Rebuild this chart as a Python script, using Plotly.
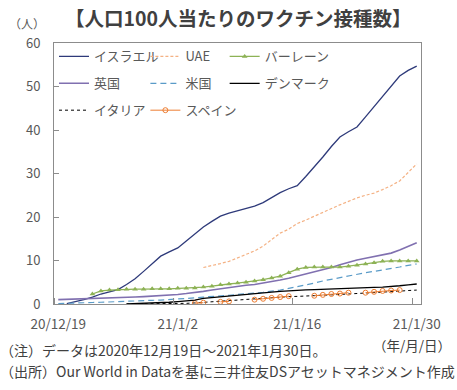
import plotly.graph_objects as go
import pandas as pd

dates = pd.date_range("2020-12-19", "2021-01-30", freq="D")
N = None

israel = [N, 0.1, 0.5, 1.0, 1.6, 2.3, 2.8, 3.3, 4.5, 5.8, 7.5, 9.3, 11.0, 12.0, 12.9, 14.5,
          16.2, 17.7, 19.0, 20.2, 20.9, 21.4, 21.9, 22.5, 23.3, 24.5, 25.6, 26.5, 27.2, 29.3,
          31.5, 33.8, 36.2, 38.4, 39.6, 40.7, 43.0, 45.3, 47.6, 50.0, 52.4, 53.7, 54.7]
uae = [N] * 17 + [8.4, 8.8, 9.3, 9.8, 10.6, 11.5, 12.2, 13.3, 14.8, 16.3, 17.2, 18.5, 19.3,
                  20.2, 21.1, 22.0, 22.8, 23.6, 24.4, 25.0, 25.5, 26.3, 27.2, 28.3, 30.2, 32.2]
bahrain = [N] * 4 + [2.3, 3.0, 3.2, 3.3, 3.4, 3.4, 3.4, 3.5, 3.5, 3.5, 3.6, 3.6, 3.7, 3.9,
                     4.1, 4.4, 4.6, 4.8, 5.0, 5.3, 5.6, 6.0, 6.4, 7.2, 8.0, 8.4, 8.5, 8.5,
                     8.5, 8.5, 8.7, 8.9, 9.2, 9.5, 9.8, 9.9, 9.9, 9.9, 9.9]
uk = [1.0, 1.05, 1.1, 1.2, 1.25, 1.3, 1.35, 1.4, 1.5, 1.6, 1.7, 1.8, 1.9, 2.0, 2.2, 2.4,
      2.6, 2.9, 3.2, 3.5, 3.8, 4.0, 4.3, 4.5, 4.8, 5.1, 5.5, 5.9, 6.4, 6.8, 7.3, 7.8, 8.4,
      9.0, 9.6, 10.1, 10.5, 10.9, 11.3, 11.7, 12.4, 13.2, 14.1]
us = [0.1, 0.2, 0.25, 0.3, 0.35, 0.4, 0.5, 0.55, 0.6, 0.65, 0.75, 0.85, 0.9, 1.0, 1.1, 1.25,
      1.4, 1.6, 1.7, 1.9, 2.0, 2.2, 2.3, 2.5, 2.7, 2.9, 3.2, 3.6, 4.0, 4.3, 4.8, 5.3, 5.7,
      6.1, 6.5, 6.9, 7.2, 7.5, 7.8, 8.1, 8.5, 8.9, 9.2]
denmark = [N] * 8 + [0.0, 0.05, 0.1, 0.2, 0.3, 0.4, 0.55, 0.7, 0.9, 1.3, 1.5, 1.7, 1.9, 2.1,
                     2.3, 2.45, 2.6, 2.75, 2.9, 3.05, 3.15, 3.25, 3.3, 3.35, 3.4, 3.5, 3.55,
                     3.6, 3.7, 3.8, 3.9, 4.0, 4.2, 4.4, 4.6]
italy = [N] * 8 + [0.0, 0.0, 0.0, 0.01, 0.02, 0.05, 0.1, 0.15, 0.25, 0.35, 0.45, 0.6, 0.75,
                   0.9, 1.05, 1.2, 1.35, 1.5, 1.6, 1.7, 1.75, 1.8, 1.9, 2.0, 2.1, 2.2, 2.3,
                   2.35, 2.4, 2.55, 2.7, 2.8, 2.95, 3.1, 3.2]
spain = [N] * 16 + [0.2, 0.3, N, 0.5, 0.6, N, N, 1.0, 1.2, 1.4, 1.6, 1.8, N, N, 1.9, 2.1,
                    2.3, 2.4, 2.6, N, 2.6, 2.8, 3.0, 3.1, 3.2, N, N]

x_ticks = ["2020-12-19", "2021-01-02", "2021-01-16", "2021-01-30"]
x_ticktext = ["20/12/19", "21/1/2", "21/1/16", "21/1/30"]
x_minor = ["2020-12-18 12:00", "2021-01-01 12:00", "2021-01-15 12:00", "2021-01-29 12:00"]

JP = "Noto Sans CJK JP"
GRAY = "#595959"

series = [
    ("イスラエル", israel, dict(color="#2E3A7A", width=1.3), None, "legend"),
    ("英国", uk, dict(color="#8070B0", width=1.6), None, "legend"),
    ("イタリア", italy, dict(color="#000000", width=1, dash="dot"), None, "legend"),
    ("UAE", uae, dict(color="#F4B183", width=1.2, dash="3px,2px"), None, "legend2"),
    ("米国", us, dict(color="#5A9BC8", width=1.2, dash="6px,4px"), None, "legend2"),
    ("スペイン", spain, dict(color="#ED7D31", width=1),
     dict(symbol="circle-open", size=5, color="#ED7D31", line=dict(width=1)), "legend2"),
    ("バーレーン", bahrain, dict(color="#8DB255", width=1.3),
     dict(symbol="triangle-up", size=5, color="#8DB255"), "legend3"),
    ("デンマーク", denmark, dict(color="#000000", width=1.3), None, "legend3"),
]

fig = go.Figure()
for i, (name, vals, line, marker, lg) in enumerate(series):
    fig.add_trace(go.Scatter(
        x=dates, y=vals, name=name, mode="lines+markers" if marker else "lines",
        line=line, marker=marker, legend=lg, legendgroup=f"g{i}",
        connectgaps=False,
    ))

leg_common = dict(font=dict(family=JP, size=13, color=GRAY), bgcolor="rgba(0,0,0,0)",
                  yanchor="top", y=1.006, xanchor="left", tracegroupgap=7,
                  itemwidth=30)
fig.update_layout(
    width=457, height=390,
    margin=dict(l=54, r=36, t=43, b=86),
    paper_bgcolor="white", plot_bgcolor="white",
    font=dict(family=JP, color=GRAY, size=13),
    legend=dict(x=0.0, **leg_common),
    legend2=dict(x=0.249, **leg_common),
    legend3=dict(x=0.465, **leg_common),
    xaxis=dict(type="date", range=["2020-12-18 12:00", "2021-01-30 12:00"],
               tickvals=x_ticks, ticktext=x_ticktext, ticks="", automargin=False,
               showline=True, linecolor="#8C8C8C", linewidth=1, mirror=True,
               showgrid=False, zeroline=False, ticklabelstandoff=8,
               tickfont=dict(family=JP, size=13.5, color=GRAY),
               minor=dict(tickvals=x_minor, ticks="inside", ticklen=6,
                          tickcolor="#8C8C8C", showgrid=False)),
    yaxis=dict(range=[0, 60], dtick=10, ticks="inside", ticklen=5, tickcolor="#8C8C8C",
               showline=True, linecolor="#8C8C8C", linewidth=1, mirror=True, automargin=False,
               showgrid=False, zeroline=False, ticklabelstandoff=10,
               tickfont=dict(family=JP, size=13, color=GRAY)),
    annotations=[
        dict(text="<b>【人口100人当たりのワクチン接種数】</b>", x=238, y=17,
             showarrow=False, font=dict(family=JP, size=19.5, color="#404040")),
        dict(text="（人）", x=7, y=23, showarrow=False, xanchor="left",
             font=dict(family=JP, size=12, color=GRAY)),
        dict(text="（注）データは2020年12月19日～2021年1月30日。", x=-2, y=350, showarrow=False,
             xanchor="left", font=dict(family=JP, size=14, color="#404040")),
        dict(text="（年/月/日）", x=453, y=345, showarrow=False, xanchor="right",
             font=dict(family=JP, size=13.5, color="#404040")),
        dict(text="（出所）Our World in Dataを基に三井住友DSアセットマネジメント作成", x=-2, y=371,
             showarrow=False, xanchor="left", font=dict(family=JP, size=14, color="#404040")),
    ],
)

# convert pixel positions of annotations to paper coords
W, H = 457, 390
l, r, t, b = 54, 36, 43, 86
pw, ph = W - l - r, H - t - b
anns = []
for a in fig.layout.annotations:
    a.x = (a.x - l) / pw
    a.y = (H - b - a.y) / ph
    a.xref = "paper"
    a.yref = "paper"
    a.yanchor = "middle"
    anns.append(a)
fig.layout.annotations = anns

fig.write_html("out.html", config={"displayModeBar": False},
               post_script="document.body.style.margin='0';")
